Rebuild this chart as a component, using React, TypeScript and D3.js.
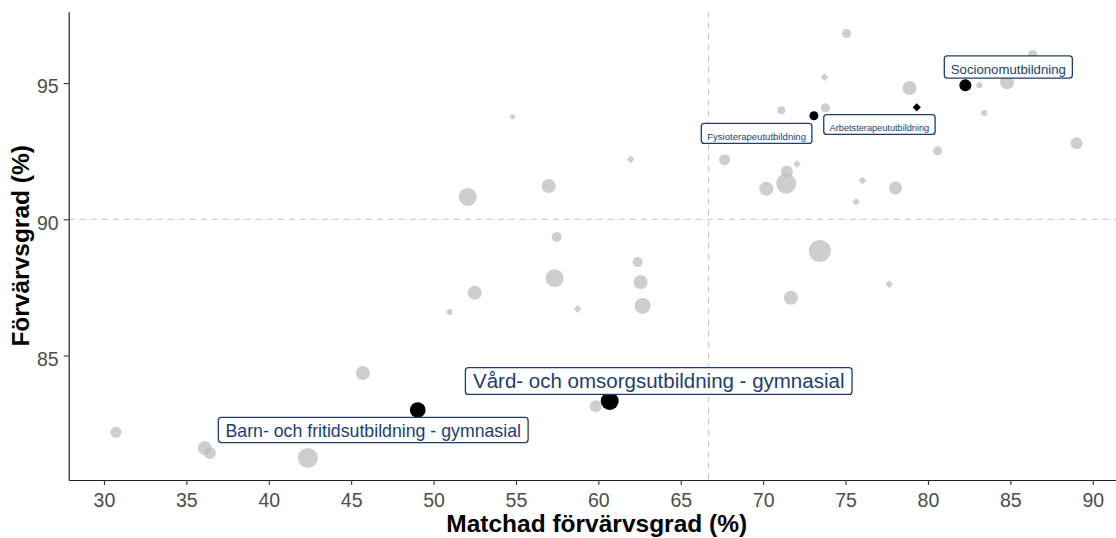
import { useEffect, useRef } from "react";
import * as d3 from "d3";

// matchad förvärvsgrad (%), förvärvsgrad (%), antal, form per utbildning
const matchad = [
  30.73, 36.12, 36.43, 42.37, 45.71, 49.04, 50.98, 52.5, 52.07, 54.8,
  56.99, 57.47, 57.35, 58.74, 59.84, 60.69, 61.96, 62.38, 62.56, 62.69,
  67.66, 70.19, 71.44, 71.4, 72.06, 71.1, 73.08, 73.78, 73.72, 75.06,
  76.03, 75.64, 78.03, 78.88, 79.32, 80.58, 82.27, 83.12, 84.8, 83.42,
  86.36, 89.02, 73.44, 77.65, 71.68,
];
const forvarv = [
  82.18, 81.6, 81.42, 81.24, 84.36, 83.0, 86.6, 87.3, 90.82, 93.76,
  91.22, 89.35, 87.84, 86.71, 83.14, 83.33, 92.2, 88.43, 87.7, 86.82,
  92.19, 91.12, 91.75, 91.31, 92.03, 94.0, 93.8, 94.09, 95.22, 96.82,
  91.42, 90.64, 91.15, 94.82, 94.11, 92.51, 94.92, 94.92, 95.03, 93.9,
  96.05, 92.79, 88.84, 87.62, 87.12,
];
const antal = [
  343, 556, 408, 1134, 556, 700, 102, 556, 919, 71,
  556, 284, 919, 181, 408, 919, 181, 284, 556, 726,
  343, 556, 408, 1134, 181, 181, 230, 230, 181, 230,
  181, 181, 480, 556, 215, 230, 408, 102, 556, 102,
  230, 408, 1372, 181, 556,
];
const form = [
  "c", "c", "c", "c", "c", "c", "c", "c", "c", "c",
  "c", "c", "c", "d", "c", "c", "d", "c", "c", "c",
  "c", "c", "c", "c", "d", "c", "c", "c", "d", "c",
  "d", "d", "c", "c", "d", "c", "c", "c", "c", "c",
  "c", "c", "c", "d", "c",
];

// utmärkta utbildningar (index i listorna ovan)
const etiketter = [
  "Barn- och fritidsutbildning - gymnasial",
  "Vård- och omsorgsutbildning - gymnasial",
  "Fysioterapeututbildning",
  "Arbetsterapeututbildning",
  "Socionomutbildning",
];
const etikettIndex = [5, 15, 26, 34, 36];

const xTicks = [30, 35, 40, 45, 50, 55, 60, 65, 70, 75, 80, 85, 90];
const yTicks = [85, 90, 95];
const refX = 66.69;
const refY = 90;

// label nudges in px (repelled positions)
const nudgeX = [-44.5, 49, -57.3, -37.3, 43];
const nudgeY = [20, -20, 17.6, 17.2, -18.3];

const W = 1116;
const H = 538;
const FONT = "'Liberation Sans', Arial, sans-serif";
const NAVY = "#1f3d6c";

export default function App() {
  const svgRef = useRef<SVGSVGElement>(null);

  useEffect(() => {
    const svg = d3.select(svgRef.current);
    svg.selectAll("*").remove();

    const left = 68.7, right = 1124.7, top = 11.7, bottom = 480;
    const x = d3.scaleLinear().domain([27.86, 91.94]).range([left, right]);
    const y = d3.scaleLinear().domain([80.43, 97.62]).range([bottom, top]);
    const r = d3.scaleSqrt().domain([0, 1500]).range([0, 11.5]);
    const fs = d3.scaleSqrt().domain([0, 1500]).range([-1.4, 26.6]);

    // reference lines
    const refLines = svg.append("g").attr("stroke", "#c4c4c4").attr("stroke-width", 1)
      .attr("stroke-dasharray", "6 5");
    refLines.append("line").attr("x1", x(refX)).attr("x2", x(refX)).attr("y1", top).attr("y2", bottom);
    refLines.append("line").attr("x1", left).attr("x2", right).attr("y1", y(refY)).attr("y2", y(refY));

    const idx = d3.range(matchad.length);
    const marked = new Set(etikettIndex);
    const diamond = (h: number) => `M0,${-h}L${h},0L0,${h}L${-h},0Z`;

    const drawPoints = (sel: number[], fill: string, alpha: number) => {
      const g = svg.append("g");
      sel.forEach((i) => {
        const rr = r(antal[i]);
        if (form[i] === "d") {
          g.append("path")
            .attr("d", diamond(rr * 0.95))
            .attr("transform", `translate(${x(matchad[i])},${y(forvarv[i])})`)
            .attr("fill", fill).attr("fill-opacity", alpha);
        } else {
          g.append("circle")
            .attr("cx", x(matchad[i])).attr("cy", y(forvarv[i])).attr("r", rr)
            .attr("fill", fill).attr("fill-opacity", alpha);
        }
      });
    };
    drawPoints(idx.filter((i) => !marked.has(i)), "#bebebe", 0.75);
    drawPoints(etikettIndex, "#000", 1);

    // labels
    etiketter.forEach((name, k) => {
      const i = etikettIndex[k];
      const f = fs(antal[i]);
      const cx = x(matchad[i]) + nudgeX[k];
      const cy = y(forvarv[i]) + nudgeY[k];
      const g = svg.append("g");
      const rect = g.append("rect");
      const t = g.append("text")
        .attr("x", cx).attr("y", cy + 0.12 * f + 5)
        .attr("text-anchor", "middle")
        .attr("font-family", FONT).attr("font-size", f)
        .attr("fill", NAVY).text(name);
      const tw = (t.node() as SVGTextElement).getComputedTextLength();
      const padX = 0.15 * f + 4.5;
      const bh = 0.63 * f + 14;
      rect.attr("x", cx - tw / 2 - padX).attr("y", cy - bh / 2)
        .attr("width", tw + 2 * padX).attr("height", bh)
        .attr("rx", 3).attr("fill", "#fff")
        .attr("stroke", NAVY).attr("stroke-width", 1.3);
    });

    // axes
    const gx = svg.append("g").attr("transform", `translate(0,${bottom})`)
      .call(d3.axisBottom(x).tickValues(xTicks).tickSize(5).tickSizeOuter(0).tickPadding(8));
    const gy = svg.append("g").attr("transform", `translate(${left},0)`)
      .call(d3.axisLeft(y).tickValues(yTicks).tickSize(5).tickSizeOuter(0).tickPadding(5));
    [gx, gy].forEach((g) => {
      g.select(".domain").attr("stroke", "#222").attr("stroke-width", 1.2);
      g.selectAll(".tick line").attr("stroke", "#333").attr("stroke-width", 1.1);
      g.selectAll(".tick text").attr("font-family", FONT).attr("font-size", 19.5)
        .attr("fill", "#4d4d4d");
    });
    gy.selectAll(".tick text").attr("dy", "0.5em");

    svg.append("text")
      .attr("x", (left + right) / 2).attr("y", 532)
      .attr("text-anchor", "middle").attr("font-family", FONT)
      .attr("font-weight", "bold").attr("font-size", 24.5).attr("fill", "#000")
      .text("Matchad förvärvsgrad (%)");
    svg.append("text")
      .attr("transform", `translate(28.5,${(top + bottom) / 2}) rotate(-90)`)
      .attr("text-anchor", "middle").attr("font-family", FONT)
      .attr("font-weight", "bold").attr("font-size", 24.5).attr("fill", "#000")
      .text("Förvärvsgrad (%)");
  }, []);

  return (
    <svg
      ref={svgRef}
      width={W}
      height={H}
      style={{ position: "absolute", left: 0, top: 0, background: "#fff" }}
    />
  );
}
